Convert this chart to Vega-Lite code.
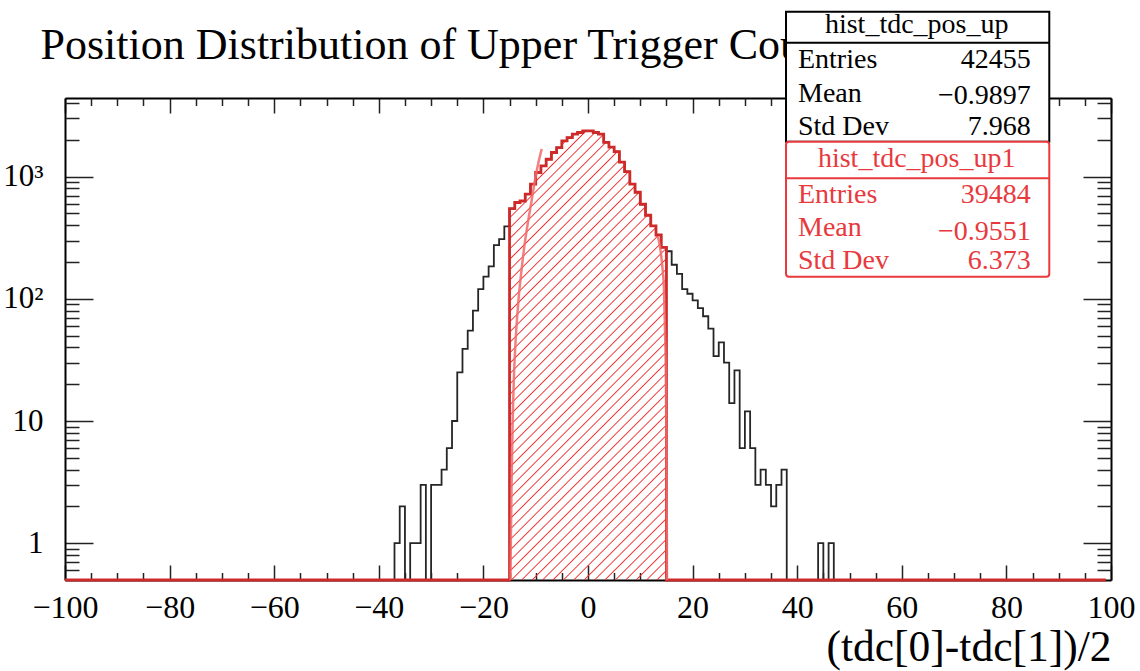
{
  "$schema": "https://vega.github.io/schema/vega-lite/v6.json",
  "width": 1046,
  "height": 482,
  "autosize": "none",
  "padding": {"left": 65, "top": 98, "right": 29, "bottom": 91},
  "background": "white",
  "datasets": {
    "hist": [
      {"lo":-100,"n":0,"m":0},{"lo":-99,"n":0,"m":0},{"lo":-98,"n":0,"m":0},{"lo":-97,"n":0,"m":0},{"lo":-96,"n":0,"m":0},{"lo":-95,"n":0,"m":0},{"lo":-94,"n":0,"m":0},{"lo":-93,"n":0,"m":0},{"lo":-92,"n":0,"m":0},{"lo":-91,"n":0,"m":0},
      {"lo":-90,"n":0,"m":0},{"lo":-89,"n":0,"m":0},{"lo":-88,"n":0,"m":0},{"lo":-87,"n":0,"m":0},{"lo":-86,"n":0,"m":0},{"lo":-85,"n":0,"m":0},{"lo":-84,"n":0,"m":0},{"lo":-83,"n":0,"m":0},{"lo":-82,"n":0,"m":0},{"lo":-81,"n":0,"m":0},
      {"lo":-80,"n":0,"m":0},{"lo":-79,"n":0,"m":0},{"lo":-78,"n":0,"m":0},{"lo":-77,"n":0,"m":0},{"lo":-76,"n":0,"m":0},{"lo":-75,"n":0,"m":0},{"lo":-74,"n":0,"m":0},{"lo":-73,"n":0,"m":0},{"lo":-72,"n":0,"m":0},{"lo":-71,"n":0,"m":0},
      {"lo":-70,"n":0,"m":0},{"lo":-69,"n":0,"m":0},{"lo":-68,"n":0,"m":0},{"lo":-67,"n":0,"m":0},{"lo":-66,"n":0,"m":0},{"lo":-65,"n":0,"m":0},{"lo":-64,"n":0,"m":0},{"lo":-63,"n":0,"m":0},{"lo":-62,"n":0,"m":0},{"lo":-61,"n":0,"m":0},
      {"lo":-60,"n":0,"m":0},{"lo":-59,"n":0,"m":0},{"lo":-58,"n":0,"m":0},{"lo":-57,"n":0,"m":0},{"lo":-56,"n":0,"m":0},{"lo":-55,"n":0,"m":0},{"lo":-54,"n":0,"m":0},{"lo":-53,"n":0,"m":0},{"lo":-52,"n":0,"m":0},{"lo":-51,"n":0,"m":0},
      {"lo":-50,"n":0,"m":0},{"lo":-49,"n":0,"m":0},{"lo":-48,"n":0,"m":0},{"lo":-47,"n":0,"m":0},{"lo":-46,"n":0,"m":0},{"lo":-45,"n":0,"m":0},{"lo":-44,"n":0,"m":0},{"lo":-43,"n":0,"m":0},{"lo":-42,"n":0,"m":0},{"lo":-41,"n":0,"m":0},
      {"lo":-40,"n":0,"m":0},{"lo":-39,"n":0,"m":0},{"lo":-38,"n":0,"m":0},{"lo":-37,"n":1,"m":0},{"lo":-36,"n":2,"m":0},{"lo":-35,"n":0,"m":0},{"lo":-34,"n":1,"m":0},{"lo":-33,"n":1,"m":0},{"lo":-32,"n":3,"m":0},{"lo":-31,"n":0,"m":0},
      {"lo":-30,"n":3,"m":0},{"lo":-29,"n":3,"m":0},{"lo":-28,"n":4,"m":0},{"lo":-27,"n":6,"m":0},{"lo":-26,"n":10,"m":0},{"lo":-25,"n":25,"m":0},{"lo":-24,"n":39,"m":0},{"lo":-23,"n":55,"m":0},{"lo":-22,"n":80,"m":0},{"lo":-21,"n":120,"m":0},
      {"lo":-20,"n":152,"m":0},{"lo":-19,"n":184,"m":0},{"lo":-18,"n":275,"m":0},{"lo":-17,"n":308,"m":0},{"lo":-16,"n":391,"m":0},{"lo":-15,"n":548,"m":548},{"lo":-14,"n":614,"m":614},{"lo":-13,"n":632,"m":632},{"lo":-12,"n":718,"m":718},{"lo":-11,"n":867,"m":867},
      {"lo":-10,"n":1081,"m":1081},{"lo":-9,"n":1224,"m":1224},{"lo":-8,"n":1388,"m":1388},{"lo":-7,"n":1575,"m":1575},{"lo":-6,"n":1730,"m":1730},{"lo":-5,"n":1959,"m":1959},{"lo":-4,"n":2089,"m":2089},{"lo":-3,"n":2224,"m":2224},{"lo":-2,"n":2296,"m":2296},{"lo":-1,"n":2366,"m":2366},
      {"lo":0,"n":2366,"m":2366},{"lo":1,"n":2296,"m":2296},{"lo":2,"n":2224,"m":2224},{"lo":3,"n":1910,"m":1910},{"lo":4,"n":1741,"m":1741},{"lo":5,"n":1600,"m":1600},{"lo":6,"n":1312,"m":1312},{"lo":7,"n":1097,"m":1097},{"lo":8,"n":867,"m":867},{"lo":9,"n":745,"m":745},
      {"lo":10,"n":594,"m":594},{"lo":11,"n":483,"m":483},{"lo":12,"n":395,"m":395},{"lo":13,"n":333,"m":333},{"lo":14,"n":264,"m":264},{"lo":15,"n":245,"m":0},{"lo":16,"n":190,"m":0},{"lo":17,"n":160,"m":0},{"lo":18,"n":120,"m":0},{"lo":19,"n":110,"m":0},
      {"lo":20,"n":97,"m":0},{"lo":21,"n":84,"m":0},{"lo":22,"n":72,"m":0},{"lo":23,"n":57,"m":0},{"lo":24,"n":34,"m":0},{"lo":25,"n":44,"m":0},{"lo":26,"n":30,"m":0},{"lo":27,"n":14,"m":0},{"lo":28,"n":26,"m":0},{"lo":29,"n":6,"m":0},
      {"lo":30,"n":12,"m":0},{"lo":31,"n":6,"m":0},{"lo":32,"n":3,"m":0},{"lo":33,"n":4,"m":0},{"lo":34,"n":3,"m":0},{"lo":35,"n":2,"m":0},{"lo":36,"n":3,"m":0},{"lo":37,"n":4,"m":0},{"lo":38,"n":0,"m":0},{"lo":39,"n":0,"m":0},
      {"lo":40,"n":0,"m":0},{"lo":41,"n":0,"m":0},{"lo":42,"n":0,"m":0},{"lo":43,"n":0,"m":0},{"lo":44,"n":1,"m":0},{"lo":45,"n":0,"m":0},{"lo":46,"n":1,"m":0},{"lo":47,"n":0,"m":0},{"lo":48,"n":0,"m":0},{"lo":49,"n":0,"m":0},
      {"lo":50,"n":0,"m":0},{"lo":51,"n":0,"m":0},{"lo":52,"n":0,"m":0},{"lo":53,"n":0,"m":0},{"lo":54,"n":0,"m":0},{"lo":55,"n":0,"m":0},{"lo":56,"n":0,"m":0},{"lo":57,"n":0,"m":0},{"lo":58,"n":0,"m":0},{"lo":59,"n":0,"m":0},
      {"lo":60,"n":0,"m":0},{"lo":61,"n":0,"m":0},{"lo":62,"n":0,"m":0},{"lo":63,"n":0,"m":0},{"lo":64,"n":0,"m":0},{"lo":65,"n":0,"m":0},{"lo":66,"n":0,"m":0},{"lo":67,"n":0,"m":0},{"lo":68,"n":0,"m":0},{"lo":69,"n":0,"m":0},
      {"lo":70,"n":0,"m":0},{"lo":71,"n":0,"m":0},{"lo":72,"n":0,"m":0},{"lo":73,"n":0,"m":0},{"lo":74,"n":0,"m":0},{"lo":75,"n":0,"m":0},{"lo":76,"n":0,"m":0},{"lo":77,"n":0,"m":0},{"lo":78,"n":0,"m":0},{"lo":79,"n":0,"m":0},
      {"lo":80,"n":0,"m":0},{"lo":81,"n":0,"m":0},{"lo":82,"n":0,"m":0},{"lo":83,"n":0,"m":0},{"lo":84,"n":0,"m":0},{"lo":85,"n":0,"m":0},{"lo":86,"n":0,"m":0},{"lo":87,"n":0,"m":0},{"lo":88,"n":0,"m":0},{"lo":89,"n":0,"m":0},
      {"lo":90,"n":0,"m":0},{"lo":91,"n":0,"m":0},{"lo":92,"n":0,"m":0},{"lo":93,"n":0,"m":0},{"lo":94,"n":0,"m":0},{"lo":95,"n":0,"m":0},{"lo":96,"n":0,"m":0},{"lo":97,"n":0,"m":0},{"lo":98,"n":0,"m":0},{"lo":99,"n":0,"m":0}
    ],
    "fit": [
      {"branch":"L","x":-14.82,"f":0.5},{"branch":"L","x":-14.76,"f":0.97},{"branch":"L","x":-14.63,"f":2.7},{"branch":"L","x":-14.44,"f":8.5},{"branch":"L","x":-14.15,"f":23.8},{"branch":"L","x":-13.77,"f":51},{"branch":"L","x":-13.29,"f":98},{"branch":"L","x":-12.71,"f":172},{"branch":"L","x":-12.14,"f":276},{"branch":"L","x":-11.47,"f":426},{"branch":"L","x":-10.76,"f":644},{"branch":"L","x":-10.13,"f":938},{"branch":"L","x":-9.5,"f":1291},{"branch":"L","x":-8.85,"f":1683},
      {"branch":"R","x":13.38,"f":321},{"branch":"R","x":13.77,"f":266},{"branch":"R","x":14.15,"f":196},{"branch":"R","x":14.53,"f":118},{"branch":"R","x":14.72,"f":56},{"branch":"R","x":14.88,"f":26},{"branch":"R","x":14.98,"f":8.5},{"branch":"R","x":15.04,"f":2.7},{"branch":"R","x":15.08,"f":0.97},{"branch":"R","x":15.1,"f":0.5}
    ],
    "stats": [
      {"hist":"hist_tdc_pos_up","entries":42455,"mean":-0.9897,"std":7.968},
      {"hist":"hist_tdc_pos_up1","entries":39484,"mean":-0.9551,"std":6.373}
    ]
  },
  "layer": [
    {
      "layer": [
        {
          "data": {"name": "hist"},
          "mark": {"type": "line", "interpolate": "step-after", "stroke": "#262626", "strokeWidth": 1.8},
          "encoding": {
            "x": {"field": "lo", "type": "quantitative", "scale": {"domain": [-100, 100], "nice": false, "zero": false},
              "axis": {"orient": "bottom", "values": [-100,-80,-60,-40,-20,0,20,40,60,80,100], "format": "d", "tickSize": -15, "tickWidth": 1.5, "tickColor": "#222222", "domain": true, "domainColor": "#000000", "domainWidth": 2, "grid": false, "labelFontSize": 32, "labelPadding": 52, "labelBaseline": "alphabetic", "labelFlush": false, "labelOverlap": false, "labelColor": "#000000",
                "title": "(tdc[0]-tdc[1])/2", "titleFontSize": 43.5, "titleFontWeight": "normal", "titleColor": "#000000", "titleAlign": "right", "titleBaseline": "alphabetic", "titleX": 1046, "titleY": 80}},
            "y": {"field": "n", "type": "quantitative", "scale": {"type": "log", "domain": [0.5, 4400], "nice": false, "clamp": true},
              "axis": {"orient": "left", "values": [1, 10, 100, 1000], "tickSize": -28, "tickWidth": 1.5, "tickColor": "#222222", "domain": true, "domainColor": "#000000", "domainWidth": 2, "grid": false, "labelExpr": "datum.value == 1000 ? '10³' : datum.value == 100 ? '10²' : datum.value == 10 ? '10' : '1'", "labelFontSize": 31, "labelPadding": 50, "labelBaseline": "middle", "labelFlush": false, "labelOverlap": false, "labelColor": "#000000", "title": null}}
          }
        },
        {
          "data": {"name": "hist"},
          "transform": [{"filter": "datum.lo >= -15 && datum.lo <= 15"}],
          "mark": {"type": "area", "interpolate": "step-after", "stroke": null,
            "fill": {"gradient": "linear", "x1": 0, "y1": 0, "x2": 0.4201, "y2": 1.2025, "stops": [
              {"offset":0,"color":"rgba(238,51,51,0)"},
              {"offset":0.0040,"color":"rgba(238,51,51,0)"},{"offset":0.0062,"color":"#ee3333"},{"offset":0.0084,"color":"rgba(238,51,51,0)"},
              {"offset":0.0212,"color":"rgba(238,51,51,0)"},{"offset":0.0234,"color":"#ee3333"},{"offset":0.0256,"color":"rgba(238,51,51,0)"},
              {"offset":0.0383,"color":"rgba(238,51,51,0)"},{"offset":0.0405,"color":"#ee3333"},{"offset":0.0427,"color":"rgba(238,51,51,0)"},
              {"offset":0.0555,"color":"rgba(238,51,51,0)"},{"offset":0.0577,"color":"#ee3333"},{"offset":0.0599,"color":"rgba(238,51,51,0)"},
              {"offset":0.0726,"color":"rgba(238,51,51,0)"},{"offset":0.0748,"color":"#ee3333"},{"offset":0.0770,"color":"rgba(238,51,51,0)"},
              {"offset":0.0898,"color":"rgba(238,51,51,0)"},{"offset":0.0920,"color":"#ee3333"},{"offset":0.0942,"color":"rgba(238,51,51,0)"},
              {"offset":0.1070,"color":"rgba(238,51,51,0)"},{"offset":0.1092,"color":"#ee3333"},{"offset":0.1114,"color":"rgba(238,51,51,0)"},
              {"offset":0.1241,"color":"rgba(238,51,51,0)"},{"offset":0.1263,"color":"#ee3333"},{"offset":0.1285,"color":"rgba(238,51,51,0)"},
              {"offset":0.1413,"color":"rgba(238,51,51,0)"},{"offset":0.1435,"color":"#ee3333"},{"offset":0.1457,"color":"rgba(238,51,51,0)"},
              {"offset":0.1584,"color":"rgba(238,51,51,0)"},{"offset":0.1606,"color":"#ee3333"},{"offset":0.1628,"color":"rgba(238,51,51,0)"},
              {"offset":0.1756,"color":"rgba(238,51,51,0)"},{"offset":0.1778,"color":"#ee3333"},{"offset":0.1800,"color":"rgba(238,51,51,0)"},
              {"offset":0.1928,"color":"rgba(238,51,51,0)"},{"offset":0.1950,"color":"#ee3333"},{"offset":0.1972,"color":"rgba(238,51,51,0)"},
              {"offset":0.2099,"color":"rgba(238,51,51,0)"},{"offset":0.2121,"color":"#ee3333"},{"offset":0.2143,"color":"rgba(238,51,51,0)"},
              {"offset":0.2271,"color":"rgba(238,51,51,0)"},{"offset":0.2293,"color":"#ee3333"},{"offset":0.2315,"color":"rgba(238,51,51,0)"},
              {"offset":0.2442,"color":"rgba(238,51,51,0)"},{"offset":0.2464,"color":"#ee3333"},{"offset":0.2486,"color":"rgba(238,51,51,0)"},
              {"offset":0.2614,"color":"rgba(238,51,51,0)"},{"offset":0.2636,"color":"#ee3333"},{"offset":0.2658,"color":"rgba(238,51,51,0)"},
              {"offset":0.2786,"color":"rgba(238,51,51,0)"},{"offset":0.2808,"color":"#ee3333"},{"offset":0.2830,"color":"rgba(238,51,51,0)"},
              {"offset":0.2957,"color":"rgba(238,51,51,0)"},{"offset":0.2979,"color":"#ee3333"},{"offset":0.3001,"color":"rgba(238,51,51,0)"},
              {"offset":0.3129,"color":"rgba(238,51,51,0)"},{"offset":0.3151,"color":"#ee3333"},{"offset":0.3173,"color":"rgba(238,51,51,0)"},
              {"offset":0.3300,"color":"rgba(238,51,51,0)"},{"offset":0.3322,"color":"#ee3333"},{"offset":0.3344,"color":"rgba(238,51,51,0)"},
              {"offset":0.3472,"color":"rgba(238,51,51,0)"},{"offset":0.3494,"color":"#ee3333"},{"offset":0.3516,"color":"rgba(238,51,51,0)"},
              {"offset":0.3644,"color":"rgba(238,51,51,0)"},{"offset":0.3666,"color":"#ee3333"},{"offset":0.3688,"color":"rgba(238,51,51,0)"},
              {"offset":0.3815,"color":"rgba(238,51,51,0)"},{"offset":0.3837,"color":"#ee3333"},{"offset":0.3859,"color":"rgba(238,51,51,0)"},
              {"offset":0.3987,"color":"rgba(238,51,51,0)"},{"offset":0.4009,"color":"#ee3333"},{"offset":0.4031,"color":"rgba(238,51,51,0)"},
              {"offset":0.4158,"color":"rgba(238,51,51,0)"},{"offset":0.4180,"color":"#ee3333"},{"offset":0.4202,"color":"rgba(238,51,51,0)"},
              {"offset":0.4330,"color":"rgba(238,51,51,0)"},{"offset":0.4352,"color":"#ee3333"},{"offset":0.4374,"color":"rgba(238,51,51,0)"},
              {"offset":0.4502,"color":"rgba(238,51,51,0)"},{"offset":0.4524,"color":"#ee3333"},{"offset":0.4546,"color":"rgba(238,51,51,0)"},
              {"offset":0.4673,"color":"rgba(238,51,51,0)"},{"offset":0.4695,"color":"#ee3333"},{"offset":0.4717,"color":"rgba(238,51,51,0)"},
              {"offset":0.4845,"color":"rgba(238,51,51,0)"},{"offset":0.4867,"color":"#ee3333"},{"offset":0.4889,"color":"rgba(238,51,51,0)"},
              {"offset":0.5016,"color":"rgba(238,51,51,0)"},{"offset":0.5038,"color":"#ee3333"},{"offset":0.5060,"color":"rgba(238,51,51,0)"},
              {"offset":0.5188,"color":"rgba(238,51,51,0)"},{"offset":0.5210,"color":"#ee3333"},{"offset":0.5232,"color":"rgba(238,51,51,0)"},
              {"offset":0.5360,"color":"rgba(238,51,51,0)"},{"offset":0.5382,"color":"#ee3333"},{"offset":0.5404,"color":"rgba(238,51,51,0)"},
              {"offset":0.5531,"color":"rgba(238,51,51,0)"},{"offset":0.5553,"color":"#ee3333"},{"offset":0.5575,"color":"rgba(238,51,51,0)"},
              {"offset":0.5703,"color":"rgba(238,51,51,0)"},{"offset":0.5725,"color":"#ee3333"},{"offset":0.5747,"color":"rgba(238,51,51,0)"},
              {"offset":0.5874,"color":"rgba(238,51,51,0)"},{"offset":0.5896,"color":"#ee3333"},{"offset":0.5918,"color":"rgba(238,51,51,0)"},
              {"offset":0.6046,"color":"rgba(238,51,51,0)"},{"offset":0.6068,"color":"#ee3333"},{"offset":0.6090,"color":"rgba(238,51,51,0)"},
              {"offset":0.6218,"color":"rgba(238,51,51,0)"},{"offset":0.6240,"color":"#ee3333"},{"offset":0.6262,"color":"rgba(238,51,51,0)"},
              {"offset":0.6389,"color":"rgba(238,51,51,0)"},{"offset":0.6411,"color":"#ee3333"},{"offset":0.6433,"color":"rgba(238,51,51,0)"},
              {"offset":0.6561,"color":"rgba(238,51,51,0)"},{"offset":0.6583,"color":"#ee3333"},{"offset":0.6605,"color":"rgba(238,51,51,0)"},
              {"offset":0.6732,"color":"rgba(238,51,51,0)"},{"offset":0.6754,"color":"#ee3333"},{"offset":0.6776,"color":"rgba(238,51,51,0)"},
              {"offset":0.6904,"color":"rgba(238,51,51,0)"},{"offset":0.6926,"color":"#ee3333"},{"offset":0.6948,"color":"rgba(238,51,51,0)"},
              {"offset":0.7076,"color":"rgba(238,51,51,0)"},{"offset":0.7098,"color":"#ee3333"},{"offset":0.7120,"color":"rgba(238,51,51,0)"},
              {"offset":0.7247,"color":"rgba(238,51,51,0)"},{"offset":0.7269,"color":"#ee3333"},{"offset":0.7291,"color":"rgba(238,51,51,0)"},
              {"offset":0.7419,"color":"rgba(238,51,51,0)"},{"offset":0.7441,"color":"#ee3333"},{"offset":0.7463,"color":"rgba(238,51,51,0)"},
              {"offset":0.7590,"color":"rgba(238,51,51,0)"},{"offset":0.7612,"color":"#ee3333"},{"offset":0.7634,"color":"rgba(238,51,51,0)"},
              {"offset":0.7762,"color":"rgba(238,51,51,0)"},{"offset":0.7784,"color":"#ee3333"},{"offset":0.7806,"color":"rgba(238,51,51,0)"},
              {"offset":0.7934,"color":"rgba(238,51,51,0)"},{"offset":0.7956,"color":"#ee3333"},{"offset":0.7978,"color":"rgba(238,51,51,0)"},
              {"offset":0.8105,"color":"rgba(238,51,51,0)"},{"offset":0.8127,"color":"#ee3333"},{"offset":0.8149,"color":"rgba(238,51,51,0)"},
              {"offset":0.8277,"color":"rgba(238,51,51,0)"},{"offset":0.8299,"color":"#ee3333"},{"offset":0.8321,"color":"rgba(238,51,51,0)"},
              {"offset":0.8448,"color":"rgba(238,51,51,0)"},{"offset":0.8470,"color":"#ee3333"},{"offset":0.8492,"color":"rgba(238,51,51,0)"},
              {"offset":0.8620,"color":"rgba(238,51,51,0)"},{"offset":0.8642,"color":"#ee3333"},{"offset":0.8664,"color":"rgba(238,51,51,0)"},
              {"offset":0.8792,"color":"rgba(238,51,51,0)"},{"offset":0.8814,"color":"#ee3333"},{"offset":0.8836,"color":"rgba(238,51,51,0)"},
              {"offset":0.8963,"color":"rgba(238,51,51,0)"},{"offset":0.8985,"color":"#ee3333"},{"offset":0.9007,"color":"rgba(238,51,51,0)"},
              {"offset":0.9135,"color":"rgba(238,51,51,0)"},{"offset":0.9157,"color":"#ee3333"},{"offset":0.9179,"color":"rgba(238,51,51,0)"},
              {"offset":0.9306,"color":"rgba(238,51,51,0)"},{"offset":0.9328,"color":"#ee3333"},{"offset":0.9350,"color":"rgba(238,51,51,0)"},
              {"offset":0.9478,"color":"rgba(238,51,51,0)"},{"offset":0.9500,"color":"#ee3333"},{"offset":0.9522,"color":"rgba(238,51,51,0)"},
              {"offset":0.9650,"color":"rgba(238,51,51,0)"},{"offset":0.9672,"color":"#ee3333"},{"offset":0.9694,"color":"rgba(238,51,51,0)"},
              {"offset":0.9821,"color":"rgba(238,51,51,0)"},{"offset":0.9843,"color":"#ee3333"},{"offset":0.9865,"color":"rgba(238,51,51,0)"},
              {"offset":1,"color":"rgba(238,51,51,0)"}
            ]}},
          "encoding": {
            "x": {"field": "lo", "type": "quantitative", "scale": {"domain": [-100, 100], "nice": false, "zero": false},
              "axis": {"orient": "top", "values": [-100,-80,-60,-40,-20,0,20,40,60,80,100], "tickSize": -15, "tickWidth": 1.5, "tickColor": "#222222", "domain": true, "domainColor": "#000000", "domainWidth": 2, "grid": false, "labels": false,
                "title": "Position Distribution of Upper Trigger Counter", "titleFont": "Liberation Serif", "titleFontSize": 44, "titleFontWeight": "normal", "titleColor": "#000000", "titleAlign": "left", "titleBaseline": "alphabetic", "titleX": -25, "titleY": -40}},
            "y": {"field": "m", "type": "quantitative", "stack": null, "scale": {"type": "log", "domain": [0.5, 4400], "nice": false, "clamp": true},
              "axis": {"orient": "right", "values": [1, 10, 100, 1000], "tickSize": -28, "tickWidth": 1.5, "tickColor": "#222222", "domain": true, "domainColor": "#000000", "domainWidth": 2, "grid": false, "labels": false, "title": null}},
            "y2": {"datum": 0.5}
          }
        },
        {
          "data": {"name": "hist"},
          "mark": {"type": "line", "interpolate": "step-after", "stroke": "#cf2a2a", "strokeWidth": 2.8},
          "encoding": {
            "x": {"field": "lo", "type": "quantitative", "scale": {"domain": [-100, 100], "nice": false, "zero": false},
              "axis": {"orient": "bottom", "values": [-95,-90,-85,-75,-70,-65,-55,-50,-45,-35,-30,-25,-15,-10,-5,5,10,15,25,30,35,45,50,55,65,70,75,85,90,95], "tickSize": -7.5, "tickWidth": 1.5, "tickColor": "#222222", "domain": false, "grid": false, "labels": false, "title": null}},
            "y": {"field": "m", "type": "quantitative", "scale": {"type": "log", "domain": [0.5, 4400], "nice": false, "clamp": true},
              "axis": {"orient": "left", "values": [0.6,0.7,0.8,0.9,2,3,4,5,6,7,8,9,20,30,40,50,60,70,80,90,200,300,400,500,600,700,800,900,2000,3000,4000], "tickSize": -14, "tickWidth": 1.5, "tickColor": "#222222", "domain": false, "grid": false, "labels": false, "title": null}}
          }
        },
        {
          "data": {"name": "fit"},
          "mark": {"type": "line", "interpolate": "monotone", "stroke": "#f06a6a", "strokeWidth": 2.5, "opacity": 0.85},
          "encoding": {
            "x": {"field": "x", "type": "quantitative", "scale": {"domain": [-100, 100], "nice": false, "zero": false},
              "axis": {"orient": "top", "values": [-95,-90,-85,-75,-70,-65,-55,-50,-45,-35,-30,-25,-15,-10,-5,5,10,15,25,30,35,45,50,55,65,70,75,85,90,95], "tickSize": -7.5, "tickWidth": 1.5, "tickColor": "#222222", "domain": false, "grid": false, "labels": false, "title": null}},
            "y": {"field": "f", "type": "quantitative", "scale": {"type": "log", "domain": [0.5, 4400], "nice": false, "clamp": true},
              "axis": {"orient": "right", "values": [0.6,0.7,0.8,0.9,2,3,4,5,6,7,8,9,20,30,40,50,60,70,80,90,200,300,400,500,600,700,800,900,2000,3000,4000], "tickSize": -14, "tickWidth": 1.5, "tickColor": "#222222", "domain": false, "grid": false, "labels": false, "title": null}},
            "detail": {"field": "branch", "type": "nominal"}
          }
        }
      ],
      "resolve": {"axis": {"x": "independent", "y": "independent"}}
    },
    {
      "data": {"name": "stats"},
      "layer": [
        {
          "transform": [{"filter": "datum.hist == 'hist_tdc_pos_up'"}],
          "mark": {"type": "rect", "fill": "#ffffff", "stroke": "#000000", "strokeWidth": 2},
          "encoding": {
            "x": {"datum": 37.86, "type": "quantitative", "axis": null},
            "x2": {"datum": 88.2},
            "y": {"datum": 22380, "type": "quantitative", "scale": {"type": "log", "domain": [0.5, 4400], "nice": false}, "axis": null},
            "y2": {"datum": 1931}
          }
        },
        {
          "transform": [{"filter": "datum.hist == 'hist_tdc_pos_up1'"}],
          "mark": {"type": "rect", "fill": "#ffffff", "stroke": "#e8393d", "strokeWidth": 2, "cornerRadius": 3},
          "encoding": {
            "x": {"datum": 37.86, "type": "quantitative", "axis": null},
            "x2": {"datum": 88.2},
            "y": {"datum": 1931, "type": "quantitative", "scale": {"type": "log", "domain": [0.5, 4400], "nice": false}, "axis": null},
            "y2": {"datum": 151.7}
          }
        },
        {
          "transform": [{"filter": "datum.hist == 'hist_tdc_pos_up'"}],
          "mark": {"type": "rule", "stroke": "#000000", "strokeWidth": 2},
          "encoding": {
            "x": {"datum": 37.86, "type": "quantitative", "axis": null},
            "x2": {"datum": 88.2},
            "y": {"datum": 12480, "type": "quantitative", "scale": {"type": "log", "domain": [0.5, 4400], "nice": false}, "axis": null}
          }
        },
        {
          "transform": [{"filter": "datum.hist == 'hist_tdc_pos_up1'"}],
          "mark": {"type": "rule", "stroke": "#e8393d", "strokeWidth": 2},
          "encoding": {
            "x": {"datum": 37.86, "type": "quantitative", "axis": null},
            "x2": {"datum": 88.2},
            "y": {"datum": 969, "type": "quantitative", "scale": {"type": "log", "domain": [0.5, 4400], "nice": false}, "axis": null}
          }
        },
        {
          "transform": [{"filter": "datum.hist == 'hist_tdc_pos_up'"}],
          "mark": {"type": "text", "align": "center", "baseline": "alphabetic", "fontSize": 28, "color": "#000000"},
          "encoding": {
            "x": {"datum": 62.85, "type": "quantitative", "axis": null},
            "y": {"datum": 14980, "type": "quantitative", "scale": {"type": "log", "domain": [0.5, 4400], "nice": false}, "axis": null},
            "text": {"field": "hist", "type": "nominal"}
          }
        },
        {
          "transform": [{"filter": "datum.hist == 'hist_tdc_pos_up'"}],
          "mark": {"type": "text", "align": "left", "baseline": "alphabetic", "fontSize": 28, "color": "#000000", "lineHeight": 33.4, "text": ["Entries", "Mean", "Std Dev"]},
          "encoding": {
            "x": {"datum": 40.15, "type": "quantitative", "axis": null},
            "y": {"datum": 7700, "type": "quantitative", "scale": {"type": "log", "domain": [0.5, 4400], "nice": false}, "axis": null}
          }
        },
        {
          "transform": [{"filter": "datum.hist == 'hist_tdc_pos_up'"}],
          "mark": {"type": "text", "align": "right", "baseline": "alphabetic", "fontSize": 28, "color": "#000000"},
          "encoding": {
            "x": {"datum": 84.65, "type": "quantitative", "axis": null},
            "y": {"datum": 7700, "type": "quantitative", "scale": {"type": "log", "domain": [0.5, 4400], "nice": false}, "axis": null},
            "text": {"field": "entries", "type": "quantitative", "format": "d"}
          }
        },
        {
          "transform": [{"filter": "datum.hist == 'hist_tdc_pos_up'"}],
          "mark": {"type": "text", "align": "right", "baseline": "alphabetic", "fontSize": 28, "color": "#000000"},
          "encoding": {
            "x": {"datum": 84.65, "type": "quantitative", "axis": null},
            "y": {"datum": 3900, "type": "quantitative", "scale": {"type": "log", "domain": [0.5, 4400], "nice": false}, "axis": null},
            "text": {"field": "mean", "type": "quantitative", "format": ".4f"}
          }
        },
        {
          "transform": [{"filter": "datum.hist == 'hist_tdc_pos_up'"}],
          "mark": {"type": "text", "align": "right", "baseline": "alphabetic", "fontSize": 28, "color": "#000000"},
          "encoding": {
            "x": {"datum": 84.65, "type": "quantitative", "axis": null},
            "y": {"datum": 2191, "type": "quantitative", "scale": {"type": "log", "domain": [0.5, 4400], "nice": false}, "axis": null},
            "text": {"field": "std", "type": "quantitative", "format": ".3f"}
          }
        },
        {
          "transform": [{"filter": "datum.hist == 'hist_tdc_pos_up1'"}],
          "mark": {"type": "text", "align": "center", "baseline": "alphabetic", "fontSize": 28, "color": "#e8393d"},
          "encoding": {
            "x": {"datum": 62.85, "type": "quantitative", "axis": null},
            "y": {"datum": 1206, "type": "quantitative", "scale": {"type": "log", "domain": [0.5, 4400], "nice": false}, "axis": null},
            "text": {"field": "hist", "type": "nominal"}
          }
        },
        {
          "transform": [{"filter": "datum.hist == 'hist_tdc_pos_up1'"}],
          "mark": {"type": "text", "align": "left", "baseline": "alphabetic", "fontSize": 28, "color": "#e8393d", "lineHeight": 33, "text": ["Entries", "Mean", "Std Dev"]},
          "encoding": {
            "x": {"datum": 40.15, "type": "quantitative", "axis": null},
            "y": {"datum": 605, "type": "quantitative", "scale": {"type": "log", "domain": [0.5, 4400], "nice": false}, "axis": null}
          }
        },
        {
          "transform": [{"filter": "datum.hist == 'hist_tdc_pos_up1'"}],
          "mark": {"type": "text", "align": "right", "baseline": "alphabetic", "fontSize": 28, "color": "#e8393d"},
          "encoding": {
            "x": {"datum": 84.65, "type": "quantitative", "axis": null},
            "y": {"datum": 605, "type": "quantitative", "scale": {"type": "log", "domain": [0.5, 4400], "nice": false}, "axis": null},
            "text": {"field": "entries", "type": "quantitative", "format": "d"}
          }
        },
        {
          "transform": [{"filter": "datum.hist == 'hist_tdc_pos_up1'"}],
          "mark": {"type": "text", "align": "right", "baseline": "alphabetic", "fontSize": 28, "color": "#e8393d"},
          "encoding": {
            "x": {"datum": 84.65, "type": "quantitative", "axis": null},
            "y": {"datum": 305, "type": "quantitative", "scale": {"type": "log", "domain": [0.5, 4400], "nice": false}, "axis": null},
            "text": {"field": "mean", "type": "quantitative", "format": ".4f"}
          }
        },
        {
          "transform": [{"filter": "datum.hist == 'hist_tdc_pos_up1'"}],
          "mark": {"type": "text", "align": "right", "baseline": "alphabetic", "fontSize": 28, "color": "#e8393d"},
          "encoding": {
            "x": {"datum": 84.65, "type": "quantitative", "axis": null},
            "y": {"datum": 174.4, "type": "quantitative", "scale": {"type": "log", "domain": [0.5, 4400], "nice": false}, "axis": null},
            "text": {"field": "std", "type": "quantitative", "format": ".3f"}
          }
        }
      ]
    }
  ],
  "resolve": {"scale": {"y": "independent"}, "axis": {"x": "independent", "y": "independent"}},
  "config": {
    "font": "Liberation Serif",
    "view": {"stroke": null},
    "axis": {"labelFont": "Liberation Serif", "titleFont": "Liberation Serif", "labelFontWeight": "normal"},
    "text": {"font": "Liberation Serif"}
  }
}
